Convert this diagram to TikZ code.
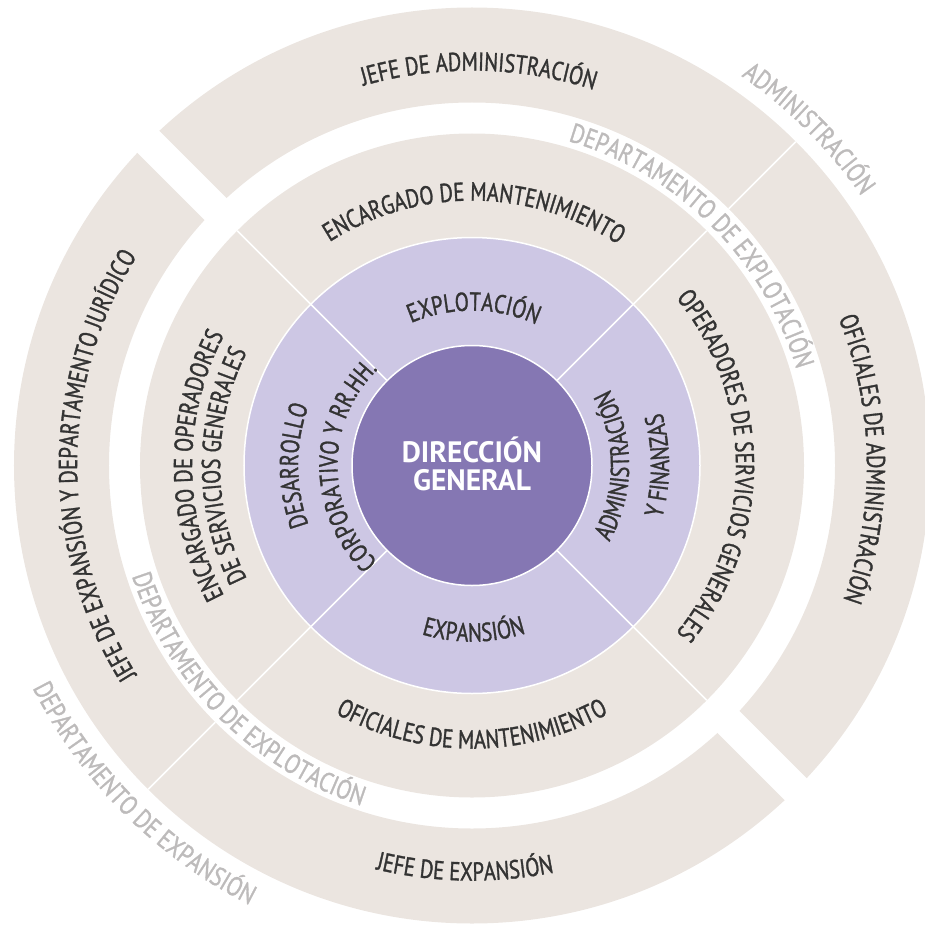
\documentclass[tikz,border=0pt]{standalone}
\usepackage{fontspec}
\usetikzlibrary{decorations.text}
\newfontfamily\lblfamily{PT Sans}[FakeStretch=0.79,FakeBold=1.2]
\newfontfamily\grayfamily{PT Sans}[FakeStretch=0.815,FakeBold=1.2]
\newfontfamily\ttlfamily{PT Sans}
\newcommand\lblfont{\lblfamily\fontsize{26}{26}\selectfont}
\newcommand\grayfont{\grayfamily\fontsize{27}{27}\selectfont}
\definecolor{beige}{HTML}{EBE5E0}
\definecolor{lav}{HTML}{CDC7E4}
\definecolor{purp}{HTML}{8577B3}
\definecolor{graytxt}{HTML}{BDBBBB}
\definecolor{darktxt}{HTML}{333333}
% #1 radius, #2 start angle, #3 end angle, #4 colour, #5 font, #6 text
\newcommand\ringtext[6]{%
  \path[decorate,decoration={text along path,text align=center,text color=#4,text={|#5|#6}}]
    (#2:#1) arc[start angle=#2,end angle=#3,radius=#1];}
\begin{document}
\begin{tikzpicture}[x=1pt,y=1pt,
  divider/.style={white,line width=1.5pt},
  gapline/.style={white,line width=31pt},
  title/.style={text=white,font=\ttlfamily\bfseries\fontsize{29.5}{29.5}\selectfont,inner sep=0pt,anchor=base}]
\useasboundingbox (-472,-458.5) rectangle (453,465.5);
% outer ring
\fill[beige,even odd rule] (0,0) circle[radius=458] (0,0) circle[radius=363];
% middle ring
\fill[beige] (0,0) circle[radius=332];
% lavender ring
\fill[lav] (0,0) circle[radius=228];
\draw[divider] (0,0) circle[radius=228];
% dividers through lavender and middle rings
\foreach \a in {45,135,225,315} \draw[divider] (\a:120) -- (\a:332);
% outer ring dividers
\foreach \a in {45,225} \draw[divider] (\a:363) -- (\a:458);
% outer ring gaps
\foreach \a in {135,315} \draw[gapline] (\a:350) -- (\a:470);
% centre
\fill[purp] (0,0) circle[radius=120];
\draw[divider] (0,0) circle[radius=120];
\node[title] (dg1) at (0,3.5) {DIRECCIÓN};
\node[title] (dg2) at (0,-24.5) {GENERAL};
% outer ring labels
\ringtext{394.9}{124}{54}{darktxt}{\lblfont}{JEFE DE ADMINISTRACIÓN}
\ringtext{394.9}{41}{-39}{darktxt}{\lblfont}{OFICIALES DE ADMINISTRACIÓN}
\ringtext{394.9}{225}{135}{darktxt}{\lblfont}{JEFE DE EXPANSIÓN Y DEPARTAMENTO JURÍDICO}
\ringtext{415.1}{239}{299}{darktxt}{\lblfont}{JEFE DE EXPANSIÓN}
% middle ring labels
\ringtext{264.9}{134.5}{44.5}{darktxt}{\lblfont}{ENCARGADO DE MANTENIMIENTO}
\ringtext{263.9}{50}{-50}{darktxt}{\lblfont}{OPERADORES DE SERVICIOS GENERALES}
\ringtext{283.1}{230}{310}{darktxt}{\lblfont}{OFICIALES DE MANTENIMIENTO}
\ringtext{279.9}{225}{135}{darktxt}{\lblfont}{ENCARGADO DE OPERADORES}
\ringtext{251.9}{225}{135}{darktxt}{\lblfont}{DE SERVICIOS GENERALES}
% lavender ring labels
\ringtext{154.9}{134.3}{44.3}{darktxt}{\lblfont}{EXPLOTACIÓN}
\ringtext{176.1}{230.6}{310.6}{darktxt}{\lblfont}{EXPANSIÓN}
\ringtext{157.1}{-50}{50}{darktxt}{\lblfont}{ADMINISTRACIÓN}
\ringtext{197.1}{-40}{40}{darktxt}{\lblfont}{Y FINANZAS}
\ringtext{173.9}{230}{130}{darktxt}{\lblfont}{DESARROLLO}
\ringtext{134.5}{240}{120}{darktxt}{\lblfont}{CORPORATIVO Y RR.HH.}
% grey department labels
\ringtext{338.5}{85}{5}{graytxt}{\grayfont}{DEPARTAMENTO DE EXPLOTACIÓN}
\ringtext{357.5}{185}{265}{graytxt}{\grayfont}{DEPARTAMENTO DE EXPLOTACIÓN}
\ringtext{473.5}{65}{25}{graytxt}{\grayfont}{ADMINISTRACIÓN}
\ringtext{492.5}{195}{255}{graytxt}{\grayfont}{DEPARTAMENTO DE EXPANSIÓN}
\end{tikzpicture}
\end{document}
